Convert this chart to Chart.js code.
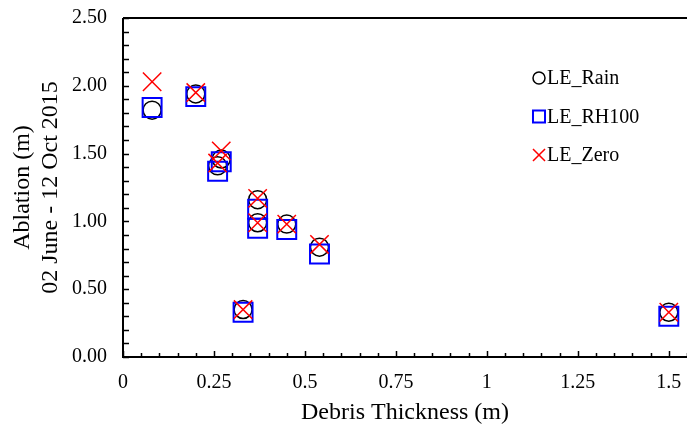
<!DOCTYPE html>
<html>
<head>
<meta charset="utf-8">
<script src="https://cdn.jsdelivr.net/npm/chart.js@4/dist/chart.umd.min.js"></script>
<style>
html,body{margin:0;padding:0;background:#fff;}
#wrap{width:687px;height:425px;}
</style>
</head>
<body>
<div id="wrap"><canvas id="c" width="687" height="425"></canvas></div>
<script>
let debris=[0.08,0.20,0.26,0.27,0.37,0.37,0.45,0.54,0.33,1.50];
let leRain=[1.82,1.94,1.41,1.46,1.16,0.99,0.98,0.81,0.35,0.33];
let leRH100=[1.84,1.92,1.37,1.44,1.09,0.95,0.94,0.76,0.33,0.30];
let leZero=[2.03,1.95,1.43,1.52,1.17,0.99,0.98,0.83,0.35,0.33];

let xTicks=[0,0.25,0.5,0.75,1,1.25,1.5];
let yTicks=[0,0.5,1,1.5,2,2.5];
let xTitle="Debris Thickness (m)";
let yTitle=["Ablation (m)","02 June - 12 Oct 2015"];

let serif="'Liberation Serif','Times New Roman',serif";

function pts(ys){
return debris.map((x,i)=>({x:x,y:ys[i]}));
}

// inward ticks, top border and legend drawn on the canvas
let decor={
id:"decor",
afterDraw(chart){
let ctx=chart.ctx;
let a=chart.chartArea;
let xs=chart.scales.x, ys=chart.scales.y;
ctx.save();
ctx.strokeStyle="#000";
ctx.lineWidth=1.5;
for(let v=0;v<=xs.max+1e-9;v+=0.05){
let px=Math.round(xs.getPixelForValue(v))+0.5;
let major=Math.abs(v/0.25-Math.round(v/0.25))<1e-6;
ctx.beginPath();
ctx.moveTo(px,a.bottom);
ctx.lineTo(px,a.bottom-(major?6:4));
ctx.stroke();
}
for(let v=0;v<=ys.max+1e-9;v+=0.1){
let py=Math.round(ys.getPixelForValue(v))+0.5;
ctx.beginPath();
ctx.moveTo(a.left,py);
ctx.lineTo(a.left+6,py);
ctx.stroke();
}
ctx.lineWidth=2;
ctx.beginPath();
ctx.moveTo(a.left,a.top);
ctx.lineTo(a.right,a.top);
ctx.moveTo(a.left,a.top);
ctx.lineTo(a.left,a.bottom);
ctx.lineTo(a.right,a.bottom);
ctx.stroke();

ctx.font="20px "+serif;
ctx.textBaseline="middle";
ctx.textAlign="left";
chart.data.datasets.forEach((d,i)=>{
let lx=539, ly=78+i*38.5;
ctx.fillStyle="rgba(0,0,0,0)";
ctx.strokeStyle=d.borderColor;
ctx.lineWidth=d.borderWidth;
Chart.helpers.drawPoint(ctx,{pointStyle:d.pointStyle,radius:d.legendRadius,borderWidth:d.borderWidth,rotation:0},lx,ly);
ctx.fillStyle="#000";
ctx.fillText(d.label,lx+8,ly+1);
});
ctx.restore();
}
};

new Chart(document.getElementById("c"),{
type:"scatter",
data:{
datasets:[
{label:"LE_Rain",data:pts(leRain),pointStyle:"circle",pointRadius:9,borderColor:"#000",backgroundColor:"rgba(0,0,0,0)",borderWidth:1.5,order:3,legendRadius:6},
{label:"LE_RH100",data:pts(leRH100),pointStyle:"rect",pointRadius:13.4,borderColor:"#0000ff",backgroundColor:"rgba(0,0,0,0)",borderWidth:2,order:2,legendRadius:8.5},
{label:"LE_Zero",data:pts(leZero),pointStyle:"crossRot",pointRadius:13,borderColor:"#ff0000",backgroundColor:"rgba(0,0,0,0)",borderWidth:1.5,order:1,legendRadius:8.5}
]
},
options:{
responsive:false,
animation:false,
events:[],
layout:{autoPadding:false,padding:{top:18,right:0,bottom:0,left:0}},
plugins:{legend:{display:false},tooltip:{enabled:false}},
scales:{
x:{
type:"linear",min:0,max:1.55,
afterBuildTicks(s){s.ticks=xTicks.map(v=>({value:v}));},
afterFit(s){s.height=68;s.paddingLeft=0;s.paddingRight=0;},
grid:{display:false,drawTicks:false},
border:{display:false},
ticks:{color:"#000",font:{family:serif,size:20},padding:14,maxRotation:0,autoSkip:false,callback:v=>String(v)},
title:{display:true,text:xTitle,color:"#000",font:{family:serif,size:24,lineHeight:1},padding:{top:0,bottom:0}}
},
y:{
type:"linear",min:0,max:2.5,
afterBuildTicks(s){s.ticks=yTicks.map(v=>({value:v}));},
afterFit(s){s.width=123;s.paddingTop=0;s.paddingBottom=0;},
grid:{display:false,drawTicks:false},
border:{display:false},
ticks:{color:"#000",font:{family:serif,size:20},padding:16,autoSkip:false,callback:v=>Number(v).toFixed(2)},
title:{display:true,text:yTitle,color:"#000",font:{family:serif,size:24,lineHeight:1.2},padding:{top:8,bottom:0}}
}
}
},
plugins:[decor]
});
</script>
</body>
</html>
